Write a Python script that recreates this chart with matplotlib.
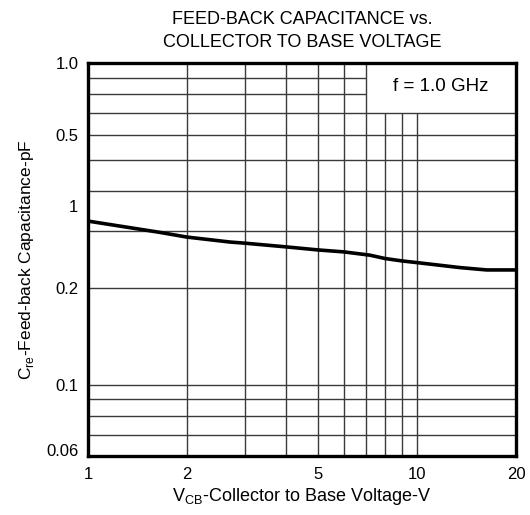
import numpy as np
import matplotlib
matplotlib.use('Agg')
import matplotlib.pyplot as plt

plt.rcParams['font.family'] = ['Liberation Sans', 'DejaVu Sans']
plt.rcParams['mathtext.fontset'] = 'custom'
plt.rcParams['mathtext.rm'] = 'Liberation Sans'

# Curve (V_CB in V, Cre in pF)
vcb = [1.0, 1.65, 2.0, 2.7, 3.0, 4.0, 5.0, 6.0, 7.2, 8.0, 9.0, 10.0, 13.5, 16.3, 20.0]
cre = [0.323, 0.298, 0.288, 0.278, 0.2757, 0.2685, 0.2627, 0.259, 0.253, 0.247,
       0.2428, 0.2399, 0.2315, 0.2276, 0.2276]

# Tick labels as printed on the original sheet (positions as drawn)
y_tick_pos = [1.0, 0.6, 0.36, 0.2, 0.1, 0.0625]
y_tick_labels = ['1.0', '0.5', '1', '0.2', '0.1', '0.06']
x_tick_pos = [1, 2, 5, 10, 20]
x_tick_labels = ['1', '2', '5', '10', '20']

# grid lines
x_grid_full = [2, 3, 4, 5, 6, 7]
x_grid_short = [8, 9, 10]
y_grid_full = [0.07, 0.08, 0.09, 0.1, 0.2, 0.3, 0.4, 0.5, 0.6, 0.7]
y_grid_short = [0.8, 0.9]

fig = plt.figure(figsize=(5.3, 5.15), dpi=100)
ax = fig.add_axes([0.166, 0.1145, 0.8075, 0.7625])
ax.set_xscale('log')
ax.set_yscale('log')
ax.set_xlim(1, 20)
ax.set_ylim(0.06, 1.0)

gc = '#3a3a3a'
ax.vlines(x_grid_full, 0.06, 1.0, colors=gc, linewidth=1.0)
ax.vlines(x_grid_short, 0.06, 0.7, colors=gc, linewidth=1.0)
ax.hlines(y_grid_full, 1, 20, colors=gc, linewidth=1.0)
ax.hlines(y_grid_short, 1, 7, colors=gc, linewidth=1.0)

ax.plot(vcb, cre, color='black', linewidth=2.6, solid_capstyle='butt')

ax.text(11.8, 0.845, 'f = 1.0 GHz', fontsize=13.5, ha='center', va='center')

ax.minorticks_off()
ax.set_xticks(x_tick_pos)
ax.set_xticklabels(x_tick_labels)
ax.set_yticks(y_tick_pos)
ax.set_yticklabels(y_tick_labels)
ax.tick_params(length=0, labelsize=12, pad=8)
ax.tick_params(axis='y', pad=7)

for s in ax.spines.values():
    s.set_linewidth(2.4)

ax.set_xlabel(r'V$_{\mathrm{CB}}$-Collector to Base Voltage-V', fontsize=13, labelpad=3)
ax.set_ylabel(r'C$_{\mathrm{re}}$-Feed-back Capacitance-pF', fontsize=12.5, labelpad=7)
ax.set_title('FEED-BACK CAPACITANCE vs.\nCOLLECTOR TO BASE VOLTAGE', fontsize=13,
             linespacing=1.45, pad=12)

plt.savefig('out.png', dpi=100)
plt.close('all')
